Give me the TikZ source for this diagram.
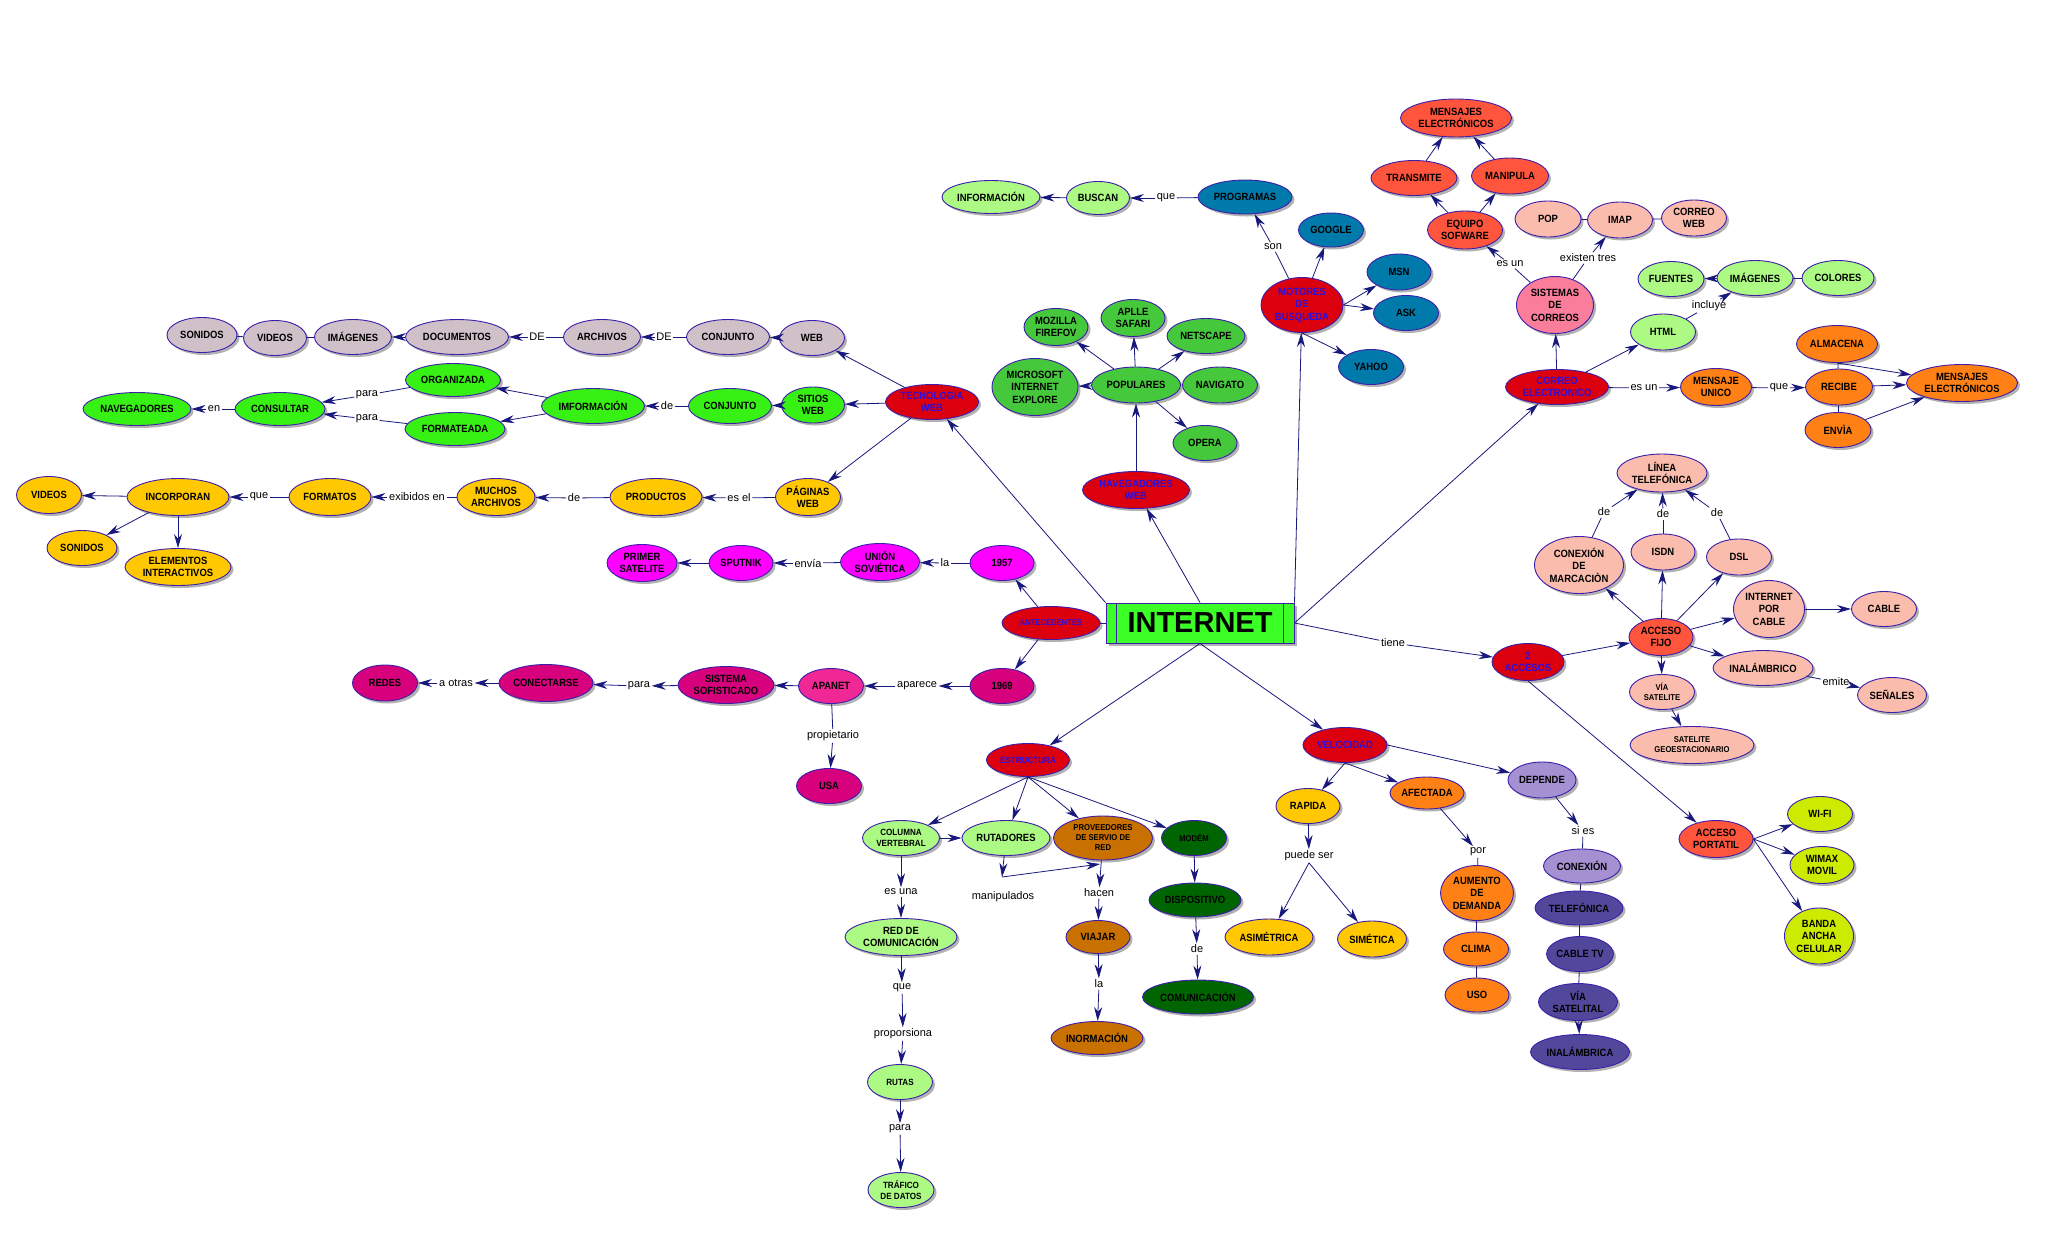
\documentclass[tikz,border=0pt]{standalone}
\usepackage{fontspec}
\setmainfont{Liberation Sans}
\newfontfamily\nf{Liberation Sans}[FakeStretch=0.9]
\usetikzlibrary{shapes.geometric,arrows.meta,shadows}
\definecolor{gris}{RGB}{208,192,200}
\definecolor{verde}{RGB}{55,240,20}
\definecolor{amar}{RGB}{255,200,0}
\definecolor{mag}{RGB}{255,0,255}
\definecolor{rosaosc}{RGB}{215,0,125}
\definecolor{apanet}{RGB}{240,40,150}
\definecolor{rojo}{RGB}{220,0,15}
\definecolor{txtblue}{RGB}{45,15,215}
\definecolor{verdecl}{RGB}{172,250,132}
\definecolor{azul}{RGB}{0,122,170}
\definecolor{verdemed}{RGB}{70,200,60}
\definecolor{rojnar}{RGB}{255,85,60}
\definecolor{salmon}{RGB}{250,188,172}
\definecolor{rosa}{RGB}{250,125,155}
\definecolor{naranja}{RGB}{255,128,20}
\definecolor{cafe}{RGB}{200,112,0}
\definecolor{verdeosc}{RGB}{0,100,0}
\definecolor{lavanda}{RGB}{165,145,210}
\definecolor{indigo}{RGB}{82,72,155}
\definecolor{lima}{RGB}{205,235,0}
\definecolor{intgreen}{RGB}{60,255,40}
\definecolor{bordecol}{RGB}{60,30,170}
\definecolor{edgecol}{RGB}{25,25,125}
\newcommand\nsz{\nf\bfseries\fontsize{10.5}{12.5}\selectfont}
\newcommand\smf{\nf\bfseries\fontsize{9}{10.5}\selectfont}
\newcommand\tnf{\nf\bfseries\fontsize{8.5}{10}\selectfont}
\newcommand\lf{\fontsize{11}{13}\selectfont}
\tikzset{
  cn/.style={ellipse, draw=bordecol, line width=0.9pt, inner sep=0pt, align=center, font=\nsz,
    drop shadow={shadow xshift=2.5pt, shadow yshift=-2.5pt, fill=black, opacity=0.3}},
  sz/.style 2 args={minimum width=#1pt, minimum height=#2pt},
  sm/.style={font=\smf},
  tn/.style={font=\tnf},
  rd/.style={fill=rojo, text=txtblue},
  lab/.style={font=\lf, inner sep=1.5pt},
  ln/.style={draw=edgecol, line width=0.8pt},
  ar/.style={ln, -{Stealth[length=14pt,width=8pt]}}
}
\begin{document}
\begin{tikzpicture}[x=1pt,y=-1pt]
\fill[white] (0,0) rectangle (2048,1243);
\useasboundingbox (0,0) rectangle (2048,1243);

% ---------- INTERNET ----------
\node[draw=bordecol, line width=1pt, fill=intgreen, minimum width=188pt, minimum height=40pt, inner sep=0pt,
  font=\bfseries\fontsize{29}{30}\selectfont,
  drop shadow={shadow xshift=2.5pt, shadow yshift=-2.5pt, fill=black, opacity=0.3}] (INT) at (1200,623) {INTERNET};
\draw[bordecol, line width=0.8pt] ([xshift=11pt]INT.north west) -- ([xshift=11pt]INT.south west);
\draw[bordecol, line width=0.8pt] ([xshift=-11pt]INT.north east) -- ([xshift=-11pt]INT.south east);

% ---------- gray row ----------
\node[cn,fill=gris,sz={70}{35}] (SONg) at (202,335) {SONIDOS};
\node[cn,fill=gris,sz={63}{35}] (VIDg) at (275,338) {VIDEOS};
\node[cn,fill=gris,sz={77}{35}] (IMGg) at (353,337) {IMÁGENES};
\node[cn,fill=gris,sz={103}{35}] (DOC) at (457,337) {DOCUMENTOS};
\node[lab] (lDEa) at (537,337) {DE};
\node[cn,fill=gris,sz={77}{35}] (ARCH) at (602,337) {ARCHIVOS};
\node[lab] (lDEb) at (664,337) {DE};
\node[cn,fill=gris,sz={83}{35}] (CONJg) at (728,337) {CONJUNTO};
\node[cn,fill=gris,sz={65}{35}] (WEBg) at (812,338) {WEB};

% ---------- green row ----------
\node[cn,fill=verde,sz={108}{33}] (NAV) at (137,409) {NAVEGADORES};
\node[lab] (len) at (214,409) {en};
\node[cn,fill=verde,sz={90}{33}] (CONS) at (280,409) {CONSULTAR};
\node[cn,fill=verde,sz={95}{33}] (ORG) at (453,380) {ORGANIZADA};
\node[cn,fill=verde,sz={100}{33}] (FORM) at (455,429) {FORMATEADA};
\node[lab] (lparaA) at (367,395) {para};
\node[lab] (lparaB) at (367,419) {para};
\node[cn,fill=verde,sz={103}{35}] (IMF) at (593,406) {IMFORMACIÓN};
\node[lab] (ldeA) at (667,406) {de};
\node[cn,fill=verde,sz={83}{35}] (CONJv) at (730,406) {CONJUNTO};
\node[cn,fill=verde,sz={63}{36}] (SIT) at (813,405) {SITIOS\\WEB};
\node[cn,rd,sz={93}{35}] (TEC) at (932,402) {TECNOLOGIA\\WEB};

% ---------- yellow row ----------
\node[cn,fill=amar,sz={65}{37}] (VIDy) at (49,495) {VIDEOS};
\node[cn,fill=amar,sz={102}{37}] (INC) at (178,497) {INCORPORAN};
\node[cn,fill=amar,sz={70}{35}] (SONy) at (82,548) {SONIDOS};
\node[cn,fill=amar,sz={106}{37}] (ELE) at (178,567) {ELEMENTOS\\INTERACTIVOS};
\node[lab] (lqueA) at (259,497) {que};
\node[cn,fill=amar,sz={82}{37}] (FMT) at (330,497) {FORMATOS};
\node[lab] (lexib) at (417,497) {exibidos en};
\node[cn,fill=amar,sz={78}{37}] (MUCH) at (496,497) {MUCHOS\\ARCHIVOS};
\node[lab] (ldeB) at (574,498) {de};
\node[cn,fill=amar,sz={92}{37}] (PROD) at (656,497) {PRODUCTOS};
\node[lab] (lesel) at (739,498) {es el};
\node[cn,fill=amar,sz={65}{37}] (PAG) at (808,497) {PÁGINAS\\WEB};

% ---------- antecedentes ----------
\node[cn,fill=mag,sz={70}{37}] (PRIM) at (642,563) {PRIMER\\SATELITE};
\node[cn,fill=mag,sz={64}{35}] (SPUT) at (741,563) {SPUTNIK};
\node[lab] (lenvia) at (808,563) {envía};
\node[cn,fill=mag,sz={79}{37}] (UNION) at (880,562) {UNIÓN\\SOVIÉTICA};
\node[lab] (lla) at (945,563) {la};
\node[cn,fill=mag,sz={64}{35}] (Y57) at (1002,563) {1957};
\node[cn,rd,tn,sz={98}{33}] (ANT) at (1051,623) {ANTECEDENTES};
\node[cn,fill=rosaosc,sz={64}{35}] (Y69) at (1002,686) {1969};
\node[lab] (laparece) at (917,686) {aparece};
\node[cn,fill=apanet,sz={65}{35}] (APA) at (831,686) {APANET};
\node[cn,fill=rosaosc,sz={96}{37}] (SIS) at (726,685) {SISTEMA\\SOFISTICADO};
\node[lab] (lparaC) at (639,686) {para};
\node[cn,fill=rosaosc,sz={94}{37}] (CON) at (546,683) {CONECTARSE};
\node[lab] (laotras) at (456,683) {a otras};
\node[cn,fill=rosaosc,sz={65}{36}] (REDES) at (385,683) {REDES};
\node[lab] (lprop) at (833,736) {propietario};
\node[cn,fill=rosaosc,sz={65}{35}] (USA) at (829,786) {USA};

% ---------- navegadores ----------
\node[cn,rd,sz={107}{37}] (NAVW) at (1136,490) {NAVEGADORES\\WEB};
\node[cn,fill=verdemed,sz={89}{36}] (POPU) at (1136,385) {POPULARES};
\node[cn,fill=verdemed,sz={64}{37}] (MOZ) at (1056,327) {MOZILLA\\FIREFOV};
\node[cn,fill=verdemed,sz={64}{37}] (SAF) at (1133,318) {APLLE\\SAFARI};
\node[cn,fill=verdemed,sz={78}{35}] (NET) at (1206,336) {NETSCAPE};
\node[cn,fill=verdemed,sz={86}{57}] (MIC) at (1035,387) {MICROSOFT\\INTERNET\\EXPLORE};
\node[cn,fill=verdemed,sz={75}{36}] (NAVG) at (1220,385) {NAVIGATO};
\node[cn,fill=verdemed,sz={64}{35}] (OPE) at (1205,443) {OPERA};

% ---------- motores ----------
\node[cn,fill=verdecl,sz={98}{33}] (INFO) at (991,197) {INFORMACIÓN};
\node[cn,fill=verdecl,sz={63}{33}] (BUS) at (1098,198) {BUSCAN};
\node[lab] (lqueB) at (1166,198) {que};
\node[cn,fill=azul,sz={94}{34}] (PROG) at (1245,197) {PROGRAMAS};
\node[lab] (lson) at (1273,247) {son};
\node[cn,fill=azul,sz={65}{34}] (GOO) at (1331,230) {GOOGLE};
\node[cn,rd,sz={82}{55}] (MOT) at (1302,305) {MOTORES\\DE\\BUSQUEDA};
\node[cn,fill=azul,sz={64}{36}] (MSN) at (1399,272) {MSN};
\node[cn,fill=azul,sz={65}{35}] (ASK) at (1406,313) {ASK};
\node[cn,fill=azul,sz={65}{35}] (YAH) at (1371,367) {YAHOO};

% ---------- correo ----------
\node[cn,fill=rojnar,sz={111}{38}] (MENt) at (1456,118) {MENSAJES\\ELECTRÓNICOS};
\node[cn,fill=rojnar,sz={86}{35}] (TRA) at (1414,178) {TRANSMITE};
\node[cn,fill=rojnar,sz={77}{36}] (MAN) at (1510,176) {MANIPULA};
\node[cn,fill=rojnar,sz={75}{38}] (EQU) at (1465,230) {EQUIPO\\SOFWARE};
\node[cn,fill=salmon,sz={66}{36}] (POPc) at (1548,219) {POP};
\node[cn,fill=salmon,sz={65}{36}] (IMAP) at (1620,220) {IMAP};
\node[cn,fill=salmon,sz={65}{36}] (CW) at (1694,218) {CORREO\\WEB};
\node[lab] (lesunA) at (1510,264) {es un};
\node[lab] (lexis) at (1588,258) {existen tres};
\node[cn,fill=rosa,sz={77}{57}] (SISC) at (1555,305) {SISTEMAS\\DE\\CORREOS};
\node[cn,fill=verdecl,sz={66}{35}] (FUE) at (1671,279) {FUENTES};
\node[cn,fill=verdecl,sz={76}{35}] (IMGc) at (1755,278) {IMÁGENES};
\node[cn,fill=verdecl,sz={72}{35}] (COL) at (1838,278) {COLORES};
\node[lab] (lincl) at (1709,306) {incluye};
\node[cn,fill=verdecl,sz={65}{36}] (HTML) at (1663,332) {HTML};
\node[cn,rd,sz={103}{35}] (CORR) at (1557,387) {CORREO\\ELECTRONICO};
\node[lab] (lesunB) at (1644,388) {es un};
\node[cn,fill=naranja,sz={71}{37}] (MU) at (1716,387) {MENSAJE\\UNICO};
\node[lab] (lqueC) at (1779,388) {que};
\node[cn,fill=naranja,sz={81}{37}] (ALM) at (1837,344) {ALMACENA};
\node[cn,fill=naranja,sz={67}{36}] (REC) at (1839,387) {RECIBE};
\node[cn,fill=naranja,sz={66}{35}] (ENV) at (1838,430) {ENVÌA};
\node[cn,fill=naranja,sz={111}{37}] (MENr) at (1962,383) {MENSAJES\\ELECTRÓNICOS};

% ---------- accesos ----------
\node[cn,rd,sz={72}{37}] (ACC2) at (1528,662) {2\\ACCESOS};
\node[lab] (ltiene) at (1393,643) {tiene};
\node[cn,fill=rojnar,sz={64}{37}] (FIJO) at (1661,637) {ACCESO\\FIJO};
\node[cn,fill=salmon,sz={90}{38}] (LIN) at (1662,473) {LÍNEA\\TELEFÓNICA};
\node[lab] (ldeC) at (1604,512) {de};
\node[lab] (ldeD) at (1663,514) {de};
\node[lab] (ldeE) at (1717,513) {de};
\node[cn,fill=salmon,sz={89}{57}] (CMAR) at (1579,565) {CONEXIÓN\\DE\\MARCACIÒN};
\node[cn,fill=salmon,sz={64}{36}] (ISDN) at (1663,552) {ISDN};
\node[cn,fill=salmon,sz={65}{36}] (DSL) at (1739,557) {DSL};
\node[cn,fill=salmon,sz={71}{57}] (IPC) at (1769,609) {INTERNET\\POR\\CABLE};
\node[cn,fill=salmon,sz={65}{35}] (CAB) at (1884,609) {CABLE};
\node[cn,fill=salmon,sz={100}{35}] (INAL) at (1763,668) {INALÁMBRICO};
\node[lab] (lemite) at (1836,682) {emite};
\node[cn,fill=salmon,sz={69}{35}] (SEN) at (1892,695) {SEÑALES};
\node[cn,fill=salmon,tn,sz={65}{35}] (VSAT) at (1662,692) {VÍA\\SATELITE};
\node[cn,fill=salmon,tn,sz={124}{37}] (SGEO) at (1692,745) {SATELITE\\GEOESTACIONARIO};
\node[cn,fill=rojnar,sz={74}{37}] (PORT) at (1716,839) {ACCESO\\PORTATIL};
\node[cn,fill=lima,sz={65}{35}] (WIFI) at (1820,814) {WI-FI};
\node[cn,fill=lima,sz={64}{37}] (WIMAX) at (1822,865) {WIMAX\\MOVIL};
\node[cn,fill=lima,sz={69}{56}] (BANDA) at (1819,936) {BANDA\\ANCHA\\CELULAR};

% ---------- estructura ----------
\node[cn,rd,sm,sz={83}{33}] (EST) at (1028,760) {ESTRUCTURA};
\node[cn,fill=verdecl,sm,sz={77}{35}] (COLV) at (901,838) {COLUMNA\\VERTEBRAL};
\node[cn,fill=verdecl,sz={88}{35}] (RUT) at (1006,838) {RUTADORES};
\node[cn,fill=cafe,tn,sz={99}{44}] (PROV) at (1103,838) {PROVEEDORES\\DE SERVIO DE\\RED};
\node[cn,fill=verdeosc,tn,sz={65}{35}] (MOD) at (1194,838) {MODÉM};
\node[lab] (lesuna) at (901,892) {es una};
\node[cn,fill=verdecl,sz={112}{37}] (REDC) at (901,937) {RED DE\\COMUNICACIÓN};
\node[lab] (lqueD) at (902,988) {que};
\node[lab] (lpropo) at (903,1034) {proporsiona};
\node[cn,fill=verdecl,sm,sz={65}{35}] (RUTAS) at (900,1082) {RUTAS};
\node[lab] (lparaD) at (900,1129) {para};
\node[cn,fill=verdecl,sm,sz={66}{35}] (TRAF) at (901,1190) {TRÁFICO\\DE DATOS};
\node[lab] (lmanip) at (1003,897) {manipulados};
\coordinate (m1) at (1002,877);
\coordinate (m2) at (1100,864);
\node[lab] (lhacen) at (1099,893) {hacen};
\node[cn,fill=cafe,sz={64}{33}] (VIA) at (1098,937) {VIAJAR};
\node[lab] (llaB) at (1099,984) {la};
\node[cn,fill=cafe,sz={92}{33}] (INOR) at (1097,1038) {INORMACIÓN};
\node[cn,fill=verdeosc,sz={92}{34}] (DISP) at (1195,900) {DISPOSITIVO};
\node[lab] (ldeF) at (1197,949) {de};
\node[cn,fill=verdeosc,sz={111}{34}] (COMU) at (1198,997) {COMUNICACIÓN};

% ---------- velocidad ----------
\node[cn,rd,sz={84}{35}] (VEL) at (1345,745) {VELOCIDAD};
\node[cn,fill=amar,sz={64}{35}] (RAP) at (1308,806) {RAPIDA};
\node[lab] (lpuede) at (1309,856) {puede ser};
\node[cn,fill=amar,sz={88}{36}] (ASIM) at (1269,937) {ASIMÉTRICA};
\node[cn,fill=amar,sz={69}{36}] (SIME) at (1372,939) {SIMÉTICA};
\node[cn,fill=naranja,sz={74}{32}] (AFE) at (1427,793) {AFECTADA};
\node[lab] (lpor) at (1478,852) {por};
\node[cn,fill=naranja,sz={73}{55}] (AUM) at (1477,893) {AUMENTO\\DE\\DEMANDA};
\node[cn,fill=naranja,sz={65}{34}] (CLI) at (1476,949) {CLIMA};
\node[cn,fill=naranja,sz={64}{34}] (USO) at (1477,995) {USO};
\node[cn,fill=lavanda,sz={68}{36}] (DEP) at (1542,780) {DEPENDE};
\node[lab] (lsies) at (1583,831) {si es};
\node[cn,fill=lavanda,sz={77}{34}] (CONX) at (1582,866) {CONEXIÓN};
\node[cn,fill=indigo,sz={88}{34}] (TEL) at (1579,908) {TELEFÓNICA};
\node[cn,fill=indigo,sz={66}{35}] (CTV) at (1580,954) {CABLE TV};
\node[cn,fill=indigo,sz={79}{37}] (VSATL) at (1578,1002) {VÍA\\SATELITAL};
\node[cn,fill=indigo,sz={99}{35}] (INALA) at (1580,1052) {INALÁMBRICA};

% ================= EDGES =================
% gray row
\draw[ln] (SONg) -- (VIDg);
\draw[ln] (VIDg) -- (IMGg);
\draw[ar] (DOC) -- (IMGg);
\draw[ln] (ARCH) -- (lDEa); \draw[ar] (lDEa) -- (DOC);
\draw[ln] (CONJg) -- (lDEb); \draw[ar] (lDEb) -- (ARCH);
\draw[ar] (WEBg) -- (CONJg);
\draw[ar] (TEC) -- (WEBg);
% green row
\draw[ar] (TEC) -- (SIT);
\draw[ar] (SIT) -- (CONJv);
\draw[ln] (CONJv) -- (ldeA); \draw[ar] (ldeA) -- (IMF);
\draw[ar] (IMF) -- (ORG);
\draw[ar] (IMF) -- (FORM);
\draw[ln] (ORG) -- (lparaA); \draw[ar] (lparaA) -- (CONS);
\draw[ln] (FORM) -- (lparaB); \draw[ar] (lparaB) -- (CONS);
\draw[ln] (CONS) -- (len); \draw[ar] (len) -- (NAV);
% yellow row
\draw[ar] (TEC) -- (PAG);
\draw[ln] (PAG) -- (lesel); \draw[ar] (lesel) -- (PROD);
\draw[ln] (PROD) -- (ldeB); \draw[ar] (ldeB) -- (MUCH);
\draw[ln] (MUCH) -- (lexib); \draw[ar] (lexib) -- (FMT);
\draw[ln] (FMT) -- (lqueA); \draw[ar] (lqueA) -- (INC);
\draw[ar] (INC) -- (VIDy);
\draw[ar] (INC) -- (SONy);
\draw[ar] (INC) -- (ELE);
% antecedentes
\draw[ln] (INT) -- (ANT);
\draw[ar] (ANT) -- (Y57);
\draw[ln] (Y57) -- (lla); \draw[ar] (lla) -- (UNION);
\draw[ln] (UNION) -- (lenvia); \draw[ar] (lenvia) -- (SPUT);
\draw[ar] (SPUT) -- (PRIM);
\draw[ar] (ANT) -- (Y69);
\draw[ar] (Y69) -- (laparece); \draw[ar] (laparece) -- (APA);
\draw[ar] (APA) -- (SIS);
\draw[ar] (SIS) -- (lparaC); \draw[ar] (lparaC) -- (CON);
\draw[ar] (CON) -- (laotras); \draw[ar] (laotras) -- (REDES);
\draw[ln] (APA) -- (lprop); \draw[ar] (lprop) -- (USA);
% internet
\draw[ar] (INT.north west) -- (TEC);
\draw[ar] (INT.north) -- (NAVW);
\draw[ar] (INT.north east) -- (MOT);
\draw[ar] (INT.east) -- (CORR);
\draw[ln] (INT.east) -- (ltiene); \draw[ar] (ltiene) -- (ACC2);
\draw[ar] (INT.south) -- (EST);
\draw[ar] (INT.south) -- (VEL);
% navegadores
\draw[ar] (NAVW) -- (POPU);
\draw[ar] (POPU) -- (MOZ);
\draw[ar] (POPU) -- (SAF);
\draw[ar] (POPU) -- (NET);
\draw[ar] (POPU) -- (MIC);
\draw[ar] (POPU) -- (OPE);
% motores
\draw[ln] (MOT) -- (lson); \draw[ar] (lson) -- (PROG);
\draw[ln] (PROG) -- (lqueB); \draw[ar] (lqueB) -- (BUS);
\draw[ar] (BUS) -- (INFO);
\draw[ar] (MOT) -- (GOO);
\draw[ar] (MOT.east) -- (MSN);
\draw[ar] (MOT.east) -- (ASK);
\draw[ar] (MOT.south) -- (YAH);
% correo
\draw[ar] (CORR) -- (SISC);
\draw[ln] (SISC) -- (lesunA); \draw[ar] (lesunA) -- (EQU);
\draw[ln] (SISC) -- (lexis); \draw[ar] (lexis) -- (IMAP);
\draw[ln] (POPc) -- (IMAP);
\draw[ln] (IMAP) -- (CW);
\draw[ar] (EQU) -- (TRA);
\draw[ar] (EQU) -- (MAN);
\draw[ar] (TRA) -- (MENt);
\draw[ar] (MAN) -- (MENt);
\draw[ar] (CORR) -- (HTML);
\draw[ln] (HTML) -- (lincl); \draw[ar] (lincl) -- (IMGc);
\draw[ar] (IMGc) -- (FUE);
\draw[ln] (IMGc) -- (COL);
\draw[ln] (CORR) -- (lesunB); \draw[ar] (lesunB) -- (MU);
\draw[ln] (MU) -- (lqueC); \draw[ar] (lqueC) -- (REC);
\draw[ar] (REC) -- (MENr);
\draw[ar] (ALM.south) -- (MENr);
\draw[ar] (ENV) -- (MENr);
\draw[ln] (REC) -- (ALM);
\draw[ln] (REC) -- (ENV);
% accesos
\draw[ar] (ACC2) -- (FIJO);
\draw[ar] (ACC2.south) -- (PORT);
\draw[ar] (FIJO) -- (CMAR);
\draw[ar] (FIJO) -- (ISDN);
\draw[ar] (FIJO) -- (DSL);
\draw[ar] (FIJO) -- (IPC);
\draw[ar] (FIJO) -- (INAL);
\draw[ar] (FIJO) -- (VSAT);
\draw[ar] (VSAT) -- (SGEO);
\draw[ln] (CMAR) -- (ldeC); \draw[ar] (ldeC) -- (LIN);
\draw[ln] (ISDN) -- (ldeD); \draw[ar] (ldeD) -- (LIN);
\draw[ln] (DSL) -- (ldeE); \draw[ar] (ldeE) -- (LIN);
\draw[ar] (IPC) -- (CAB);
\draw[ln] (INAL) -- (lemite); \draw[ar] (lemite) -- (SEN);
\draw[ar] (PORT.east) -- (WIFI);
\draw[ar] (PORT.east) -- (WIMAX);
\draw[ar] (PORT.east) -- (BANDA);
% estructura
\draw[ar] (EST.south) -- (COLV);
\draw[ar] (EST.south) -- (RUT);
\draw[ar] (EST.south) -- (PROV);
\draw[ar] (EST.south) -- (MOD);
\draw[ar] (COLV) -- (RUT);
\draw[ar] (COLV) -- (lesuna); \draw[ar] (lesuna) -- (REDC);
\draw[ar] (REDC) -- (lqueD); \draw[ar] (lqueD) -- (lpropo);
\draw[ar] (lpropo) -- (RUTAS);
\draw[ar] (RUTAS) -- (lparaD); \draw[ar] (lparaD) -- (TRAF);
\draw[ar] (RUT) -- (m1); \draw[ar] (m1) -- (m2);
\draw[ar] (PROV) -- (lhacen); \draw[ar] (lhacen) -- (VIA);
\draw[ar] (VIA) -- (llaB); \draw[ar] (llaB) -- (INOR);
\draw[ar] (MOD) -- (DISP);
\draw[ar] (DISP) -- (ldeF); \draw[ar] (ldeF) -- (COMU);
% velocidad
\draw[ar] (VEL.south) -- (RAP);
\draw[ar] (VEL.south) -- (AFE);
\draw[ar] (VEL.east) -- (DEP);
\draw[ar] (RAP) -- (lpuede);
\draw[ar] (lpuede.south) -- (ASIM);
\draw[ar] (lpuede.south) -- (SIME);
\draw[ar] (AFE) -- (lpor);
\draw[ln] (lpor) -- (AUM);
\draw[ln] (AUM) -- (CLI);
\draw[ln] (CLI) -- (USO);
\draw[ar] (DEP) -- (lsies);
\draw[ln] (lsies) -- (CONX);
\draw[ln] (CONX) -- (TEL);
\draw[ln] (TEL) -- (CTV);
\draw[ln] (CTV) -- (VSATL);
\draw[ar] (VSATL) -- (INALA);
\end{tikzpicture}
\end{document}
